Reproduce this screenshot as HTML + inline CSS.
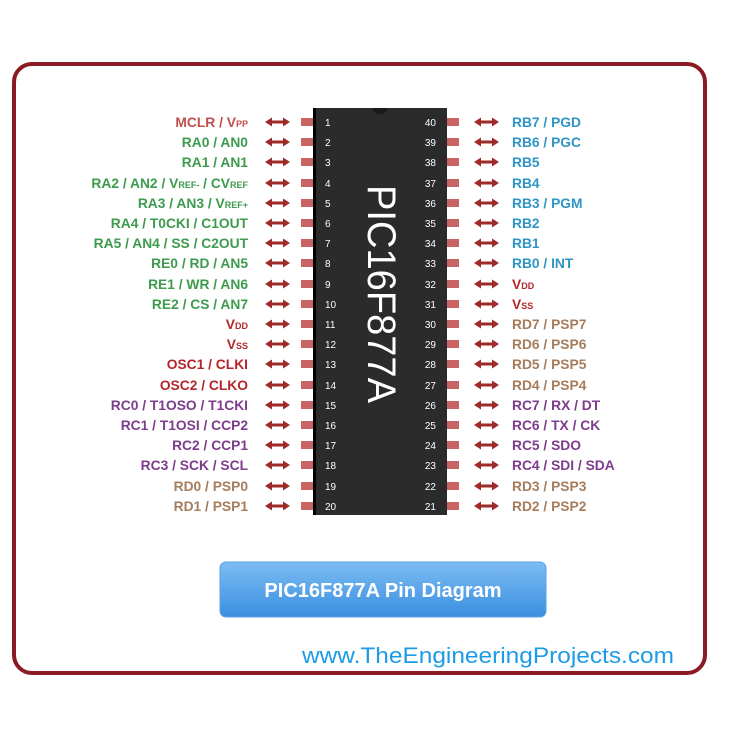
<!DOCTYPE html>
<html><head><meta charset="utf-8"><style>
html,body{margin:0;padding:0;background:#fff;}
svg{display:block;}
text{font-family:"Liberation Sans",sans-serif;}
.l{font-size:13.8px;font-weight:bold;text-anchor:end;}
.r{font-size:13.8px;font-weight:bold;text-anchor:start;}
.n{font-size:10px;fill:#fff;}
.e{font-size:10px;fill:#fff;text-anchor:end;}
.g{fill:#3c9b4c}.b{fill:#2f96c4}.d{fill:#b3262a}.p{fill:#7d3c8c}.w{fill:#a57d5c}.m{fill:#c0504d}
</style></head><body>
<svg width="733" height="733" viewBox="0 0 733 733" xmlns="http://www.w3.org/2000/svg" xmlns:xlink="http://www.w3.org/1999/xlink">
<defs>
<linearGradient id="bg" x1="0" y1="0" x2="0" y2="1">
<stop offset="0" stop-color="#7cbcf3"/><stop offset="1" stop-color="#3b8fe0"/></linearGradient>
<g id="row">
<path d="M265,0 l7,-4.5 v3 h11 v-3 l7,4.5 l-7,4.5 v-3 h-11 v3 z" fill="#9e2a2a"/>
<path d="M474,0 l7,-4.5 v3 h11 v-3 l7,4.5 l-7,4.5 v-3 h-11 v3 z" fill="#9e2a2a"/>
<rect x="301" y="-4" width="12" height="8" fill="#c86464"/>
<rect x="447" y="-4" width="12" height="8" fill="#c86464"/>
</g>
</defs>
<rect x="14" y="64" width="691" height="609" rx="18" fill="#fff" stroke="#8b1a22" stroke-width="4"/>
<rect x="313" y="108" width="134" height="407" fill="#2b2b2b"/>
<rect x="313" y="108" width="3" height="407" fill="#000"/>
<path d="M372,108 a8,6 0 0 0 16,0 z" fill="#1a1a1a"/>
<text transform="translate(368,294) rotate(90)" text-anchor="middle" font-size="40" fill="#fff" textLength="218" lengthAdjust="spacingAndGlyphs">PIC16F877A</text>

<use href="#row" xlink:href="#row" y="122"/><use href="#row" xlink:href="#row" y="142"/><use href="#row" xlink:href="#row" y="162"/><use href="#row" xlink:href="#row" y="183"/><use href="#row" xlink:href="#row" y="203"/><use href="#row" xlink:href="#row" y="223"/><use href="#row" xlink:href="#row" y="243"/><use href="#row" xlink:href="#row" y="263"/><use href="#row" xlink:href="#row" y="284"/><use href="#row" xlink:href="#row" y="304"/><use href="#row" xlink:href="#row" y="324"/><use href="#row" xlink:href="#row" y="344"/><use href="#row" xlink:href="#row" y="364"/><use href="#row" xlink:href="#row" y="385"/><use href="#row" xlink:href="#row" y="405"/><use href="#row" xlink:href="#row" y="425"/><use href="#row" xlink:href="#row" y="445"/><use href="#row" xlink:href="#row" y="465"/><use href="#row" xlink:href="#row" y="486"/><use href="#row" xlink:href="#row" y="506"/>

<text class="n" x="325" y="126">1</text><text class="n" x="325" y="146">2</text><text class="n" x="325" y="166">3</text><text class="n" x="325" y="187">4</text><text class="n" x="325" y="207">5</text><text class="n" x="325" y="227">6</text><text class="n" x="325" y="247">7</text><text class="n" x="325" y="267">8</text><text class="n" x="325" y="288">9</text><text class="n" x="325" y="308">10</text><text class="n" x="325" y="328">11</text><text class="n" x="325" y="348">12</text><text class="n" x="325" y="368">13</text><text class="n" x="325" y="389">14</text><text class="n" x="325" y="409">15</text><text class="n" x="325" y="429">16</text><text class="n" x="325" y="449">17</text><text class="n" x="325" y="469">18</text><text class="n" x="325" y="490">19</text><text class="n" x="325" y="510">20</text>
<text class="e" x="436" y="126">40</text><text class="e" x="436" y="146">39</text><text class="e" x="436" y="166">38</text><text class="e" x="436" y="187">37</text><text class="e" x="436" y="207">36</text><text class="e" x="436" y="227">35</text><text class="e" x="436" y="247">34</text><text class="e" x="436" y="267">33</text><text class="e" x="436" y="288">32</text><text class="e" x="436" y="308">31</text><text class="e" x="436" y="328">30</text><text class="e" x="436" y="348">29</text><text class="e" x="436" y="368">28</text><text class="e" x="436" y="389">27</text><text class="e" x="436" y="409">26</text><text class="e" x="436" y="429">25</text><text class="e" x="436" y="449">24</text><text class="e" x="436" y="469">23</text><text class="e" x="436" y="490">22</text><text class="e" x="436" y="510">21</text>

<text class="l m" x="248" y="127" font-weight="normal">MCLR / V<tspan font-size="9">PP</tspan></text>
<text class="l g" x="248" y="147">RA0 / AN0</text>
<text class="l g" x="248" y="167">RA1 / AN1</text>
<text class="l g" x="248" y="188">RA2 / AN2 / V<tspan font-size="9">REF-</tspan> / CV<tspan font-size="9">REF</tspan></text>
<text class="l g" x="248" y="208">RA3 / AN3 / V<tspan font-size="9">REF+</tspan></text>
<text class="l g" x="248" y="228">RA4 / T0CKI / C1OUT</text>
<text class="l g" x="248" y="248">RA5 / AN4 / SS / C2OUT</text>
<text class="l g" x="248" y="268">RE0 / RD / AN5</text>
<text class="l g" x="248" y="289">RE1 / WR / AN6</text>
<text class="l g" x="248" y="309">RE2 / CS / AN7</text>
<text class="l d" x="248" y="329">V<tspan font-size="9">DD</tspan></text>
<text class="l d" x="248" y="349">V<tspan font-size="9">SS</tspan></text>
<text class="l d" x="248" y="369">OSC1 / CLKI</text>
<text class="l d" x="248" y="390">OSC2 / CLKO</text>
<text class="l p" x="248" y="410">RC0 / T1OSO / T1CKI</text>
<text class="l p" x="248" y="430">RC1 / T1OSI / CCP2</text>
<text class="l p" x="248" y="450">RC2 / CCP1</text>
<text class="l p" x="248" y="470">RC3 / SCK / SCL</text>
<text class="l w" x="248" y="491">RD0 / PSP0</text>
<text class="l w" x="248" y="511">RD1 / PSP1</text>

<text class="r b" x="512" y="127">RB7 / PGD</text>
<text class="r b" x="512" y="147">RB6 / PGC</text>
<text class="r b" x="512" y="167">RB5</text>
<text class="r b" x="512" y="188">RB4</text>
<text class="r b" x="512" y="208">RB3 / PGM</text>
<text class="r b" x="512" y="228">RB2</text>
<text class="r b" x="512" y="248">RB1</text>
<text class="r b" x="512" y="268">RB0 / INT</text>
<text class="r d" x="512" y="289">V<tspan font-size="9">DD</tspan></text>
<text class="r d" x="512" y="309">V<tspan font-size="9">SS</tspan></text>
<text class="r w" x="512" y="329">RD7 / PSP7</text>
<text class="r w" x="512" y="349">RD6 / PSP6</text>
<text class="r w" x="512" y="369">RD5 / PSP5</text>
<text class="r w" x="512" y="390">RD4 / PSP4</text>
<text class="r p" x="512" y="410">RC7 / RX / DT</text>
<text class="r p" x="512" y="430">RC6 / TX / CK</text>
<text class="r p" x="512" y="450">RC5 / SDO</text>
<text class="r p" x="512" y="470">RC4 / SDI / SDA</text>
<text class="r w" x="512" y="491">RD3 / PSP3</text>
<text class="r w" x="512" y="511">RD2 / PSP2</text>

<rect x="220" y="562" width="326" height="55" rx="6" fill="url(#bg)" stroke="#5aa2e6"/>
<text x="383" y="597" text-anchor="middle" font-size="20" font-weight="bold" fill="#fff">PIC16F877A Pin Diagram</text>
<text x="488" y="663" text-anchor="middle" font-size="22" fill="#1d9be6" textLength="372" lengthAdjust="spacingAndGlyphs">www.TheEngineeringProjects.com</text>
</svg>
</body></html>
